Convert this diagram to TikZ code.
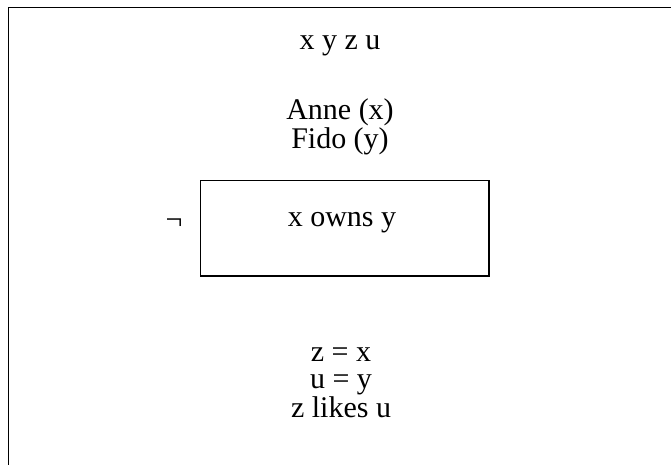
\documentclass[tikz,border=0pt]{standalone}
\usepackage{fontspec}
\setmainfont{Liberation Serif}
\begin{document}
\begin{tikzpicture}[x=1pt,y=-1pt,
  lbl/.style={inner sep=0pt, anchor=base, align=center, font=\fontsize{30}{27}\selectfont},
  frame/.style={draw=black, line width=1.3pt}]
\useasboundingbox (0,0) rectangle (671,464);
\begin{scope}
\clip (0,0) rectangle (671,464);
\draw[frame] (8.5,7.5) rectangle (690,490);
\end{scope}
\node[frame, minimum width=288.3pt, minimum height=95.3pt, inner sep=0pt] (negbox) at (344.85,228.35) {};
\node[lbl] (vars) at (340,49) {x y z u};
\node[lbl] (names) at (340,148) {Anne (x)\\Fido (y)};
\node[lbl] (owns) at (342,226) {x owns y};
\node[lbl] (neg) at (174,229) {¬};
\node[lbl] (conds) at (341,417) {z = x\\u = y\\z likes u};
\end{tikzpicture}
\end{document}
